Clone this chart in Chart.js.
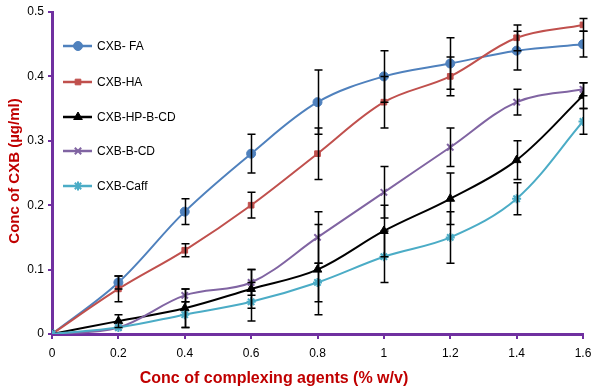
<!DOCTYPE html>
<html>
<head>
<meta charset="utf-8">
<script src="https://cdn.jsdelivr.net/npm/chart.js@4.4.1/dist/chart.umd.min.js"></script>
<style>
html,body{margin:0;padding:0;background:#fff;}
#wrap{position:relative;width:600px;height:390px;}
</style>
</head>
<body>
<div id="wrap"><canvas id="c" width="600" height="390"></canvas></div>
<script>
const categories = [0, 0.2, 0.4, 0.6, 0.8, 1.0, 1.2, 1.4, 1.6];
const xTickLabels = ['0','0.2','0.4','0.6','0.8','1','1.2','1.4','1.6'];
const yTickLabels = ['0','0.1','0.2','0.3','0.4','0.5'];

const seriesNames = ['CXB- FA','CXB-HA','CXB-HP-B-CD','CXB-B-CD','CXB-Caff'];

const faValues   = [0, 0.08, 0.19, 0.28, 0.36, 0.40, 0.42, 0.44, 0.45];
const haValues   = [0, 0.07, 0.13, 0.20, 0.28, 0.36, 0.40, 0.46, 0.48];
const hpbcdValues= [0, 0.02, 0.04, 0.07, 0.10, 0.16, 0.21, 0.27, 0.37];
const bcdValues  = [0, 0.01, 0.06, 0.08, 0.15, 0.22, 0.29, 0.36, 0.38];
const caffValues = [0, 0.01, 0.03, 0.05, 0.08, 0.12, 0.15, 0.21, 0.33];

const faErrors   = [0, 0.01, 0.02, 0.03, 0.05, 0.04, 0.04, 0.03, 0.02];
const haErrors   = [0, 0.02, 0.01, 0.02, 0.04, 0.04, 0.03, 0.02, 0.01];
const hpbcdErrors= [0, 0.01, 0.03, 0.03, 0.07, 0.04, 0.04, 0.03, 0.02];
const bcdErrors  = [0, 0.00, 0.01, 0.02, 0.04, 0.04, 0.03, 0.02, 0.01];
const caffErrors = [0, 0.00, 0.02, 0.03, 0.03, 0.04, 0.04, 0.025, 0.02];

const colors = ['#4F81BD','#C0504D','#000000','#8064A2','#4BACC6'];
const shapes = ['circle','rect','triangle','crossRot','star'];
const radii  = [4.5, 4, 5, 4.5, 4.5];

const valueSets = [faValues, haValues, hpbcdValues, bcdValues, caffValues];
const errorSets = [faErrors, haErrors, hpbcdErrors, bcdErrors, caffErrors];

const datasets = seriesNames.map((name, i) => ({
  label: name,
  data: categories.map((x, j) => ({x: x, y: valueSets[i][j]})),
  errors: errorSets[i],
  borderColor: colors[i],
  backgroundColor: colors[i],
  pointStyle: shapes[i],
  pointRadius: radii[i],
  pointBorderWidth: (shapes[i]==='crossRot'||shapes[i]==='star') ? 2 : 1,
  pointBorderColor: colors[i],
  pointBackgroundColor: colors[i],
  borderWidth: 2,
  tension: 0.35,
  fill: false,
  order: 5 - i
}));

const purple = '#7030A0';
const titleRed = '#C00000';

const errorBarPlugin = {
  id: 'errorBars',
  afterDatasetsDraw(chart) {
    const ctx = chart.ctx;
    const xs = chart.scales.x, ys = chart.scales.y;
    ctx.save();
    ctx.strokeStyle = '#000';
    ctx.lineWidth = 1.5;
    chart.data.datasets.forEach(ds => {
      ds.data.forEach((p, j) => {
        const e = ds.errors[j];
        if (!e) return;
        const px = Math.round(xs.getPixelForValue(p.x)) + 0.5;
        const yt = ys.getPixelForValue(p.y + e);
        const yb = ys.getPixelForValue(p.y - e);
        ctx.beginPath();
        ctx.moveTo(px, yt); ctx.lineTo(px, yb);
        ctx.moveTo(px - 4, yt); ctx.lineTo(px + 4, yt);
        ctx.moveTo(px - 4, yb); ctx.lineTo(px + 4, yb);
        ctx.stroke();
      });
    });
    ctx.restore();
  }
};

const legendPlugin = {
  id: 'insideLegend',
  afterDraw(chart) {
    const ctx = chart.ctx;
    ctx.save();
    const rowsY = [46, 82, 117, 151, 186];
    chart.data.datasets.forEach((ds, i) => {
      const y = rowsY[i];
      ctx.strokeStyle = ds.borderColor;
      ctx.lineWidth = 2.5;
      ctx.beginPath();
      ctx.moveTo(63, y); ctx.lineTo(92, y);
      ctx.stroke();
      ctx.fillStyle = ds.backgroundColor;
      ctx.lineWidth = ds.pointBorderWidth;
      Chart.helpers.drawPoint(ctx, {pointStyle: ds.pointStyle, radius: ds.pointRadius, rotation: 0, borderWidth: ds.pointBorderWidth}, 78, y);
      ctx.fillStyle = '#000';
      ctx.font = '12px "Liberation Sans", Arial, sans-serif';
      ctx.textBaseline = 'middle';
      ctx.textAlign = 'left';
      ctx.fillText(ds.label, 97, y + 1);
    });
    // axis titles
    ctx.fillStyle = titleRed;
    ctx.textAlign = 'center';
    ctx.textBaseline = 'middle';
    ctx.font = 'bold 16px "Liberation Sans", Arial, sans-serif';
    ctx.fillText('Conc of complexing agents (% w/v)', 274, 379);
    ctx.font = 'bold 15px "Liberation Sans", Arial, sans-serif';
    ctx.translate(15, 171);
    ctx.rotate(-Math.PI / 2);
    ctx.fillText('Conc of CXB (\u00b5g/ml)', 0, 0);
    ctx.restore();
  }
};

new Chart(document.getElementById('c'), {
  type: 'line',
  data: { datasets: datasets },
  plugins: [errorBarPlugin, legendPlugin],
  options: {
    responsive: false,
    animation: false,
    devicePixelRatio: 1,
    layout: { padding: { left: 0, right: 17, top: 12, bottom: 0 } },
    plugins: { legend: { display: false }, tooltip: { enabled: false } },
    scales: {
      x: {
        type: 'linear',
        min: 0, max: 1.6,
        afterBuildTicks(scale) { scale.ticks = categories.map(v => ({value: v})); },
        afterFit(scale) { scale.height = 56; },
        ticks: {
          callback: (v, i) => xTickLabels[i],
          color: '#000',
          font: { family: '"Liberation Sans", Arial, sans-serif', size: 12 },
          padding: 7,
          maxRotation: 0, autoSkip: false
        },
        grid: { drawOnChartArea: false, drawTicks: true, tickLength: 5, color: purple, lineWidth: 2 },
        border: { color: purple, width: 3 }
      },
      y: {
        type: 'linear',
        min: 0, max: 0.5,
        afterBuildTicks(scale) { scale.ticks = yTickLabels.map(v => ({value: parseFloat(v)})); },
        afterFit(scale) { scale.width = 52; },
        ticks: {
          callback: (v, i) => yTickLabels[i],
          color: '#000',
          font: { family: '"Liberation Sans", Arial, sans-serif', size: 12 },
          padding: 4
        },
        grid: { drawOnChartArea: false, drawTicks: true, tickLength: 4, color: purple, lineWidth: 2 },
        border: { color: purple, width: 3 }
      }
    }
  }
});
</script>
</body>
</html>
